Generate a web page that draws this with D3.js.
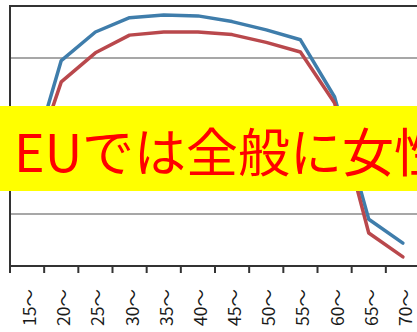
<!DOCTYPE html>
<html>
<head>
<meta charset="utf-8">
<script src="https://cdn.jsdelivr.net/npm/d3@7"></script>
<style>
  html, body { margin: 0; padding: 0; background: #fff; }
  svg { display: block; }
</style>
</head>
<body>
<svg id="chart" width="417" height="332"></svg>
<script>
const categories = ["15～", "20～", "25～", "30～", "35～", "40～", "45～", "50～", "55～", "60～", "65～", "70～"];
const seriesBlue = [34, 79, 90, 95.5, 96.5, 96.2, 94, 90.8, 87, 65, 18, 8.8];
const seriesRed = [32, 70.8, 82, 88.8, 90, 90, 89, 86, 82.3, 62.7, 12.7, 3.5];
const gridTicks = [20, 40, 60, 80];
const bannerText = "EUでは全般に女性";

(function () {
const svg = d3.select("#chart");
const mLeft = 10, mRight = 420, mTop = 6, mBottom = 266;

const x = d3.scaleBand().domain(categories).range([mLeft, mRight]).paddingInner(0).paddingOuter(0);
const y = d3.scaleLinear().domain([0, 100]).range([mBottom, mTop]);

// gridlines
svg.append("g").selectAll("line").data(gridTicks).join("line")
  .attr("x1", mLeft).attr("x2", 417)
  .attr("y1", d => y(d)).attr("y2", d => y(d))
  .attr("stroke", "#8a8a8a").attr("stroke-width", 1.5);

// top border
svg.append("line")
  .attr("x1", mLeft).attr("x2", 417)
  .attr("y1", y(100)).attr("y2", y(100))
  .attr("stroke", "#333").attr("stroke-width", 2);

// left axis
svg.append("line")
  .attr("x1", mLeft).attr("x2", mLeft)
  .attr("y1", y(100) - 1).attr("y2", mBottom + 7)
  .attr("stroke", "#333").attr("stroke-width", 2);

// x axis
const xAxis = d3.axisBottom(x).tickSize(0).tickFormat("");
const gx = svg.append("g").attr("transform", `translate(0,${mBottom})`).call(xAxis);
gx.select(".domain").remove();
svg.append("line")
  .attr("x1", mLeft).attr("x2", 417)
  .attr("y1", mBottom).attr("y2", mBottom)
  .attr("stroke", "#333").attr("stroke-width", 2);
// boundary tick marks
svg.append("g").selectAll("line").data(categories).join("line")
  .attr("x1", d => x(d)).attr("x2", d => x(d))
  .attr("y1", mBottom).attr("y2", mBottom + 7)
  .attr("stroke", "#333").attr("stroke-width", 2);

// labels
svg.append("g").selectAll("text").data(categories).join("text")
  .attr("transform", d => `translate(${x(d) + x.bandwidth() / 2 + 1.5},289) rotate(-90)`)
  .attr("text-anchor", "end")
  .attr("dominant-baseline", "central")
  .attr("font-family", "'Noto Sans CJK JP', sans-serif")
  .attr("font-size", 17.5)
  .attr("fill", "#1a1a1a")
  .text(d => d);

// lines
const line = d3.line()
  .x((d, i) => x(categories[i]) + x.bandwidth() / 2)
  .y(d => y(d));

svg.append("path").datum(seriesBlue)
  .attr("d", line).attr("fill", "none")
  .attr("stroke", "#3f7dab").attr("stroke-width", 3.5)
  .attr("stroke-linejoin", "round").attr("stroke-linecap", "round");

svg.append("path").datum(seriesRed)
  .attr("d", line).attr("fill", "none")
  .attr("stroke", "#b9484c").attr("stroke-width", 3.5)
  .attr("stroke-linejoin", "round").attr("stroke-linecap", "round");

// banner
svg.append("rect").attr("x", 0).attr("y", 106).attr("width", 417).attr("height", 85)
  .attr("fill", "#ffff00");
svg.append("text")
  .attr("x", 14).attr("y", 172)
  .attr("font-family", "'Noto Sans CJK JP', sans-serif")
  .attr("font-size", 52)
  .attr("fill", "#ff0000")
  .text(bannerText);
})();
</script>
</body>
</html>
